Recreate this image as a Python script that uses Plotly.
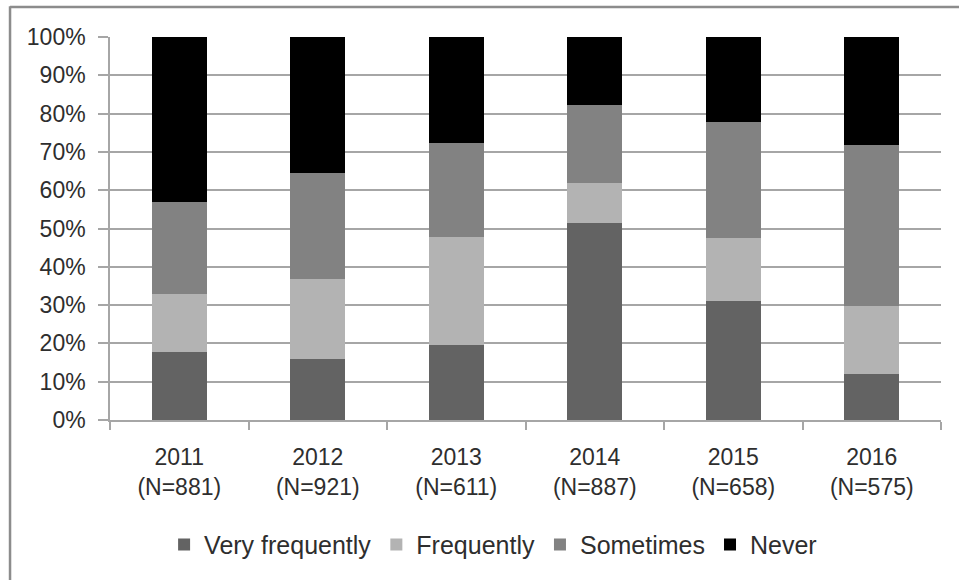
import plotly.graph_objects as go

# Survey responses by year (share of respondents, %)
years = ["2011", "2012", "2013", "2014", "2015", "2016"]
sample_sizes = [881, 921, 611, 887, 658, 575]
very_frequently = [17.7, 16.0, 19.7, 51.5, 31.0, 11.9]
frequently = [15.1, 20.7, 28.0, 10.3, 16.4, 17.8]
sometimes = [24.0, 27.8, 24.5, 20.5, 30.5, 42.1]
never = [43.2, 35.5, 27.8, 17.7, 22.1, 28.2]

series_names = ["Very frequently", "Frequently", "Sometimes", "Never"]
series_values = [very_frequently, frequently, sometimes, never]
series_colors = ["#636363", "#b3b3b3", "#828282", "#000000"]

categories = [f"{y}<br>(N={n})" for y, n in zip(years, sample_sizes)]

FONT = "Liberation Sans, Arial, sans-serif"
TEXT = "#2e2e2e"
GRID = "#a6a6a6"

fig = go.Figure()
for name, vals, color in zip(series_names, series_values, series_colors):
    fig.add_trace(go.Bar(
        name=name,
        x=categories,
        y=vals,
        marker=dict(color=color, line=dict(width=0)),
    ))

fig.update_layout(
    barmode="stack",
    bargap=0.6,
    width=959,
    height=580,
    margin=dict(l=110, r=18, t=37, b=160),
    paper_bgcolor="white",
    plot_bgcolor="white",
    font=dict(family=FONT, size=23, color=TEXT),
    showlegend=True,
    legend=dict(
        orientation="h",
        x=0.461,
        xanchor="center",
        y=-0.326,
        yanchor="middle",
        font=dict(family=FONT, size=25, color=TEXT),
        itemwidth=30,
        traceorder="normal",
    ),
    shapes=[
        # outer frame (left and top edges visible)
        dict(type="line", xref="paper", yref="paper",
             x0=-0.1203, x1=-0.1203, y0=1.08, y1=-0.5,
             line=dict(color="#8c8c8c", width=2.5)),
        dict(type="line", xref="paper", yref="paper",
             x0=-0.1203, x1=1.1, y0=1.0783, y1=1.0783,
             line=dict(color="#8c8c8c", width=2.5)),
    ],
)

fig.update_xaxes(
    type="category",
    showline=True,
    linecolor=GRID,
    linewidth=1.5,
    ticks="outside",
    tickson="boundaries",
    ticklen=8,
    tickcolor=GRID,
    tickwidth=1.5,
    tickfont=dict(family=FONT, size=23, color=TEXT),
    ticklabelstandoff=16,
    showgrid=False,
)

fig.update_yaxes(
    range=[0, 100],
    tickvals=[0, 10, 20, 30, 40, 50, 60, 70, 80, 90, 100],
    ticktext=["0%", "10%", "20%", "30%", "40%", "50%", "60%", "70%", "80%", "90%", "100%"],
    showgrid=True,
    gridcolor=GRID,
    gridwidth=1.5,
    showline=True,
    linecolor=GRID,
    linewidth=1.5,
    ticks="outside",
    ticklen=10,
    tickcolor=GRID,
    tickwidth=1.5,
    tickfont=dict(family=FONT, size=23, color=TEXT),
    ticklabelstandoff=8,
    zeroline=False,
)

fig.write_html("out.html")
